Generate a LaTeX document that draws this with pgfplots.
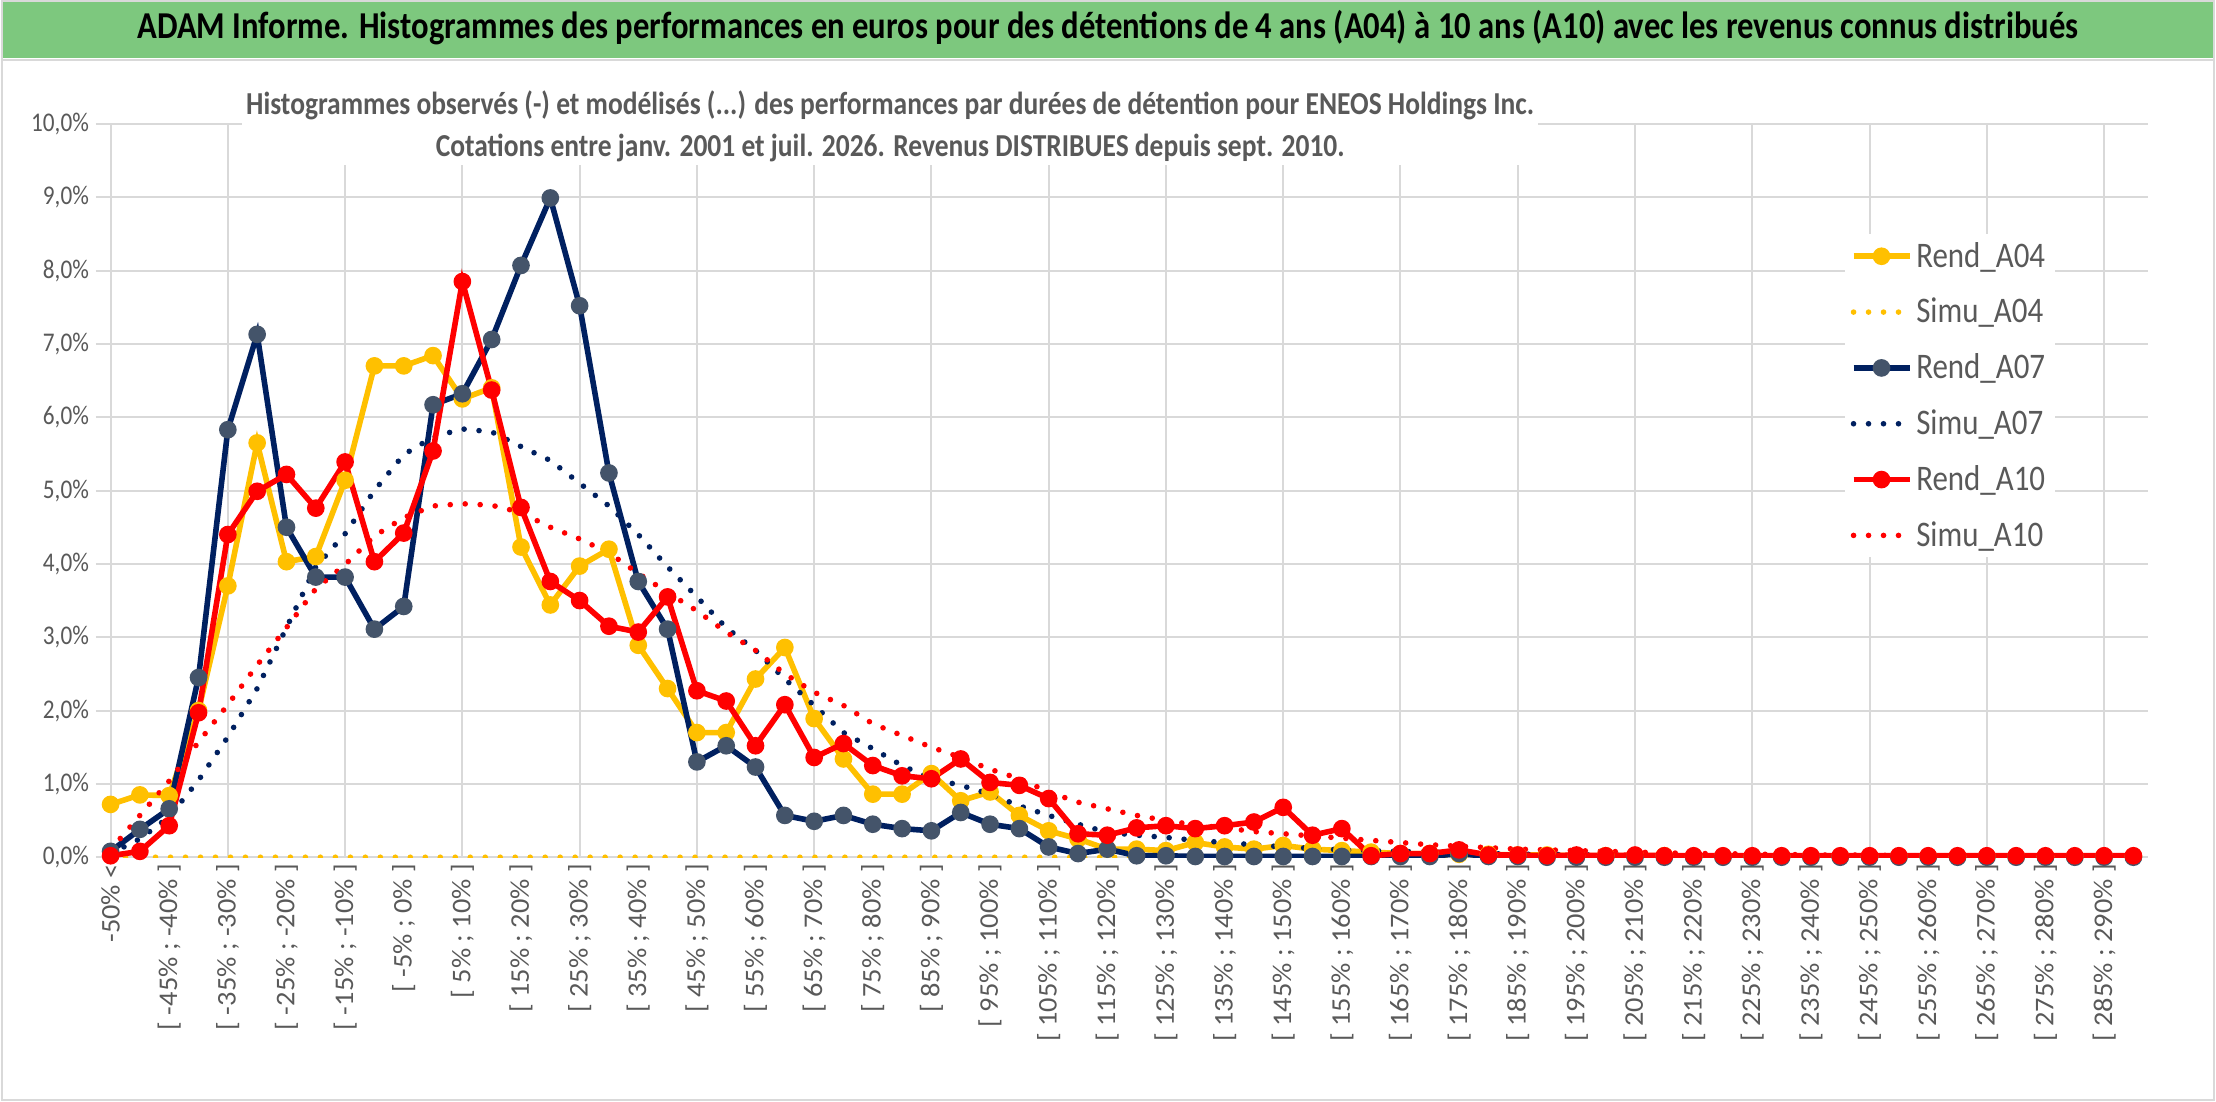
\documentclass[border=0pt]{standalone}
\usepackage{pgfplots}
\pgfplotsset{compat=1.18}
\usepackage{fontspec}
\setmainfont{Carlito}[FakeStretch=0.86]
\newfontfamily\xf{Carlito}[FakeStretch=1.05]
\definecolor{cY}{HTML}{FFC000}
\definecolor{cB}{HTML}{002060}
\definecolor{cBm}{HTML}{44546A}
\definecolor{cR}{HTML}{FF0000}
\definecolor{cG}{HTML}{7DC87E}
\definecolor{tg}{HTML}{595959}
\definecolor{gridc}{HTML}{D9D9D9}
\begin{document}
\begin{tikzpicture}
\fill[white] (0,0) rectangle (1108pt,551pt);
\fill[cG] (0,522pt) rectangle (1108pt,551pt);
\draw[gridc,line width=1pt] (0,521pt) -- (1108pt,521pt);
\draw[gridc,line width=1pt] (0.5pt,0.5pt) rectangle (1107.5pt,550.5pt);
\node[font=\bfseries\fontsize{19}{21}\selectfont,text=black] at (554pt,537pt) {ADAM Informe. Histogrammes des performances en euros pour des détentions de 4 ans (A04) à 10 ans (A10) avec les revenus connus distribués};
\begin{axis}[at={(47.5pt,122pt)},anchor=south west,scale only axis,
width=1027pt,height=367pt,
xmin=-0.5,xmax=69.5,ymin=0,ymax=10,
axis line style={draw=none},
ytick={0,1,...,10},
ymajorgrids,grid style={gridc,line width=1pt},
yticklabel={\pgfmathprintnumber[fixed,fixed zerofill,precision=1,use comma]{\tick}\%},
/pgf/number format/assume math mode=true,
ticklabel style={text=tg,font=\fontsize{13.5}{15}\selectfont},
tick style={draw=none},
xtick={0,2,...,68},
xticklabels={-50\% <,[ -45\% ; -40\% ],[ -35\% ; -30\% ],[ -25\% ; -20\% ],[ -15\% ; -10\% ],[ -5\% ; 0\% ],[ 5\% ; 10\% ],[ 15\% ; 20\% ],[ 25\% ; 30\% ],[ 35\% ; 40\% ],[ 45\% ; 50\% ],[ 55\% ; 60\% ],[ 65\% ; 70\% ],[ 75\% ; 80\% ],[ 85\% ; 90\% ],[ 95\% ; 100\% ],[ 105\% ; 110\% ],[ 115\% ; 120\% ],[ 125\% ; 130\% ],[ 135\% ; 140\% ],[ 145\% ; 150\% ],[ 155\% ; 160\% ],[ 165\% ; 170\% ],[ 175\% ; 180\% ],[ 185\% ; 190\% ],[ 195\% ; 200\% ],[ 205\% ; 210\% ],[ 215\% ; 220\% ],[ 225\% ; 230\% ],[ 235\% ; 240\% ],[ 245\% ; 250\% ],[ 255\% ; 260\% ],[ 265\% ; 270\% ],[ 275\% ; 280\% ],[ 285\% ; 290\% ]},
xticklabel style={rotate=90,anchor=east,font=\xf\fontsize{13.5}{15}\selectfont},
extra x ticks={0,4,...,68},extra x tick labels={},
extra x tick style={xmajorgrids=true,ymajorgrids=false},
legend cell align=left,
legend style={at={(0.852,0.85)},anchor=north west,draw=none,fill=white,text=tg,font=\fontsize{18}{20}\selectfont,row sep=10pt},
legend image code/.code={\draw[#1] (0pt,0pt) -- (28pt,0pt) plot coordinates {(14pt,0pt)};},
]
\pgfplotsset{
rend/.style={line width=2.8pt,mark=*,mark size=3pt},
simu/.style={line width=2.8pt,line cap=round,dash pattern=on 0pt off 7.5pt,mark=none},
}
\addplot[rend,cY,mark options={fill=cY,draw=cY}] coordinates {
(0,0.72)(1,0.85)(2,0.84)(3,2.0)(4,3.7)(5,5.65)(6,4.03)(7,4.1)(8,5.14)(9,6.7)(10,6.7)(11,6.84)(12,6.25)(13,6.4)(14,4.23)(15,3.44)(16,3.97)(17,4.2)(18,2.89)(19,2.3)(20,1.7)(21,1.7)(22,2.43)(23,2.86)(24,1.89)(25,1.34)(26,0.86)(27,0.86)(28,1.14)(29,0.77)(30,0.89)(31,0.57)(32,0.36)(33,0.25)(34,0.11)(35,0.11)(36,0.09)(37,0.2)(38,0.14)(39,0.11)(40,0.16)(41,0.11)(42,0.09)(43,0.07)(44,0.05)(45,0.05)(46,0.04)(47,0.04)(48,0.03)(49,0.03)(50,0.02)(51,0.02)(52,0.02)(53,0.02)(54,0.01)(55,0.01)(56,0.01)(57,0.01)(58,0.01)(59,0.01)(60,0.01)(61,0.01)(62,0.01)(63,0.01)(64,0.01)(65,0.01)(66,0.01)(67,0.01)(68,0.01)(69,0.01)};
\addlegendentry{Rend\_A04}
\addplot[simu,cY] coordinates {(0,0)(69,0)};
\addlegendentry{Simu\_A04}
\addplot[rend,cB,mark options={fill=cBm,draw=cBm}] coordinates {
(0,0.08)(1,0.38)(2,0.66)(3,2.45)(4,5.83)(5,7.13)(6,4.5)(7,3.82)(8,3.82)(9,3.11)(10,3.42)(11,6.17)(12,6.32)(13,7.06)(14,8.07)(15,8.99)(16,7.52)(17,5.24)(18,3.76)(19,3.11)(20,1.3)(21,1.52)(22,1.23)(23,0.57)(24,0.49)(25,0.57)(26,0.45)(27,0.39)(28,0.36)(29,0.61)(30,0.45)(31,0.39)(32,0.14)(33,0.05)(34,0.11)(35,0.02)(36,0.02)(37,0.01)(38,0.01)(39,0.01)(40,0.01)(41,0.01)(42,0.01)(43,0.01)(44,0.01)(45,0.01)(46,0.05)(47,0.01)(48,0.01)(49,0)(50,0)(51,0)(52,0)(53,0)(54,0)(55,0)(56,0)(57,0)(58,0)(59,0)(60,0)(61,0)(62,0)(63,0)(64,0)(65,0)(66,0)(67,0)(68,0)(69,0)};
\addlegendentry{Rend\_A07}
\addplot[simu,cB] coordinates {
(0,0.05)(1,0.25)(2,0.55)(3,1.05)(4,1.64)(5,2.3)(6,3.13)(7,3.96)(8,4.41)(9,5.0)(10,5.49)(11,5.73)(12,5.84)(13,5.8)(14,5.6)(15,5.41)(16,5.1)(17,4.79)(18,4.4)(19,3.96)(20,3.55)(21,3.13)(22,2.82)(23,2.43)(24,2.07)(25,1.7)(26,1.48)(27,1.25)(28,1.07)(29,0.98)(30,0.86)(31,0.7)(32,0.57)(33,0.45)(34,0.34)(35,0.3)(36,0.27)(37,0.23)(38,0.2)(39,0.17)(40,0.14)(41,0.12)(42,0.1)(43,0.09)(44,0.08)(45,0.07)(46,0.06)(47,0.05)(48,0.04)(49,0.04)(50,0.03)(51,0.03)(52,0.02)(53,0.02)(54,0.02)(55,0.01)(56,0.01)(57,0.01)(58,0.01)(59,0.01)(60,0.01)(61,0.01)(62,0.01)(63,0.01)(64,0.01)(65,0.01)(66,0.01)(67,0.01)(68,0.01)(69,0.01)};
\addlegendentry{Simu\_A07}
\addplot[rend,cR,mark options={fill=cR,draw=cR}] coordinates {
(0,0.02)(1,0.08)(2,0.43)(3,1.97)(4,4.4)(5,4.99)(6,5.22)(7,4.76)(8,5.39)(9,4.03)(10,4.42)(11,5.54)(12,7.85)(13,6.37)(14,4.77)(15,3.76)(16,3.5)(17,3.15)(18,3.07)(19,3.55)(20,2.27)(21,2.13)(22,1.52)(23,2.08)(24,1.36)(25,1.55)(26,1.25)(27,1.11)(28,1.07)(29,1.34)(30,1.02)(31,0.98)(32,0.8)(33,0.32)(34,0.3)(35,0.4)(36,0.43)(37,0.39)(38,0.43)(39,0.48)(40,0.68)(41,0.3)(42,0.39)(43,0.02)(44,0.05)(45,0.05)(46,0.1)(47,0.03)(48,0.03)(49,0.02)(50,0.03)(51,0.02)(52,0.03)(53,0.02)(54,0.02)(55,0.02)(56,0.02)(57,0.02)(58,0.02)(59,0.02)(60,0.02)(61,0.02)(62,0.02)(63,0.02)(64,0.02)(65,0.02)(66,0.02)(67,0.02)(68,0.02)(69,0.02)};
\addlegendentry{Rend\_A10}
\addplot[simu,cR] coordinates {
(0,0.1)(1,0.57)(2,1.04)(3,1.57)(4,2.08)(5,2.62)(6,3.13)(7,3.66)(8,3.99)(9,4.38)(10,4.63)(11,4.79)(12,4.82)(13,4.8)(14,4.7)(15,4.5)(16,4.34)(17,4.15)(18,3.87)(19,3.61)(20,3.36)(21,3.07)(22,2.82)(23,2.5)(24,2.25)(25,2.07)(26,1.82)(27,1.66)(28,1.5)(29,1.36)(30,1.2)(31,1.07)(32,0.89)(33,0.75)(34,0.66)(35,0.57)(36,0.5)(37,0.44)(38,0.4)(39,0.35)(40,0.32)(41,0.29)(42,0.26)(43,0.23)(44,0.2)(45,0.17)(46,0.15)(47,0.13)(48,0.11)(49,0.1)(50,0.09)(51,0.08)(52,0.07)(53,0.06)(54,0.05)(55,0.05)(56,0.04)(57,0.04)(58,0.03)(59,0.03)(60,0.03)(61,0.02)(62,0.02)(63,0.02)(64,0.02)(65,0.01)(66,0.01)(67,0.01)(68,0.01)(69,0.01)};
\addlegendentry{Simu\_A10}
\end{axis}
\node[fill=white,text=tg,font=\bfseries\fontsize{16}{18}\selectfont,inner sep=2pt,align=center] at (445pt,488pt) {Histogrammes observés (-) et modélisés (...) des performances par durées de détention pour ENEOS Holdings Inc.\\[3pt]Cotations entre janv. 2001 et juil. 2026. Revenus DISTRIBUES depuis sept. 2010.};
\end{tikzpicture}
\end{document}
